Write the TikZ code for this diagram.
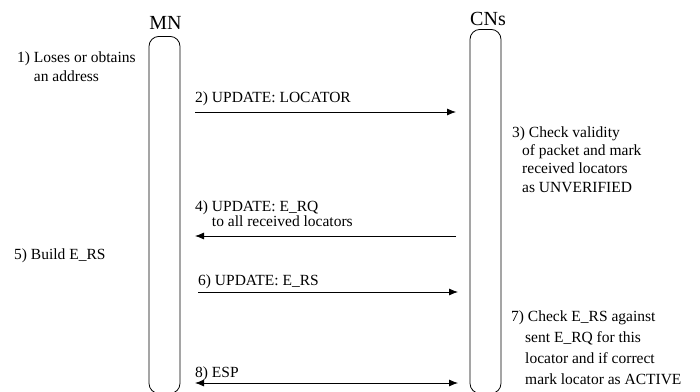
\documentclass[tikz,border=0pt]{standalone}
\usepackage{fontspec}
\setmainfont{Liberation Serif}
\usetikzlibrary{arrows.meta}
\begin{document}
\begin{tikzpicture}[>={Latex[length=9pt,width=7pt]},x=1pt,y=-1pt,line join=round,font=\fontsize{15.5}{18.5}\selectfont]
	\tikzset{life/.style={draw,rounded corners=10pt,minimum width=31pt,minimum height=357pt,inner sep=0pt,anchor=north,line width=.8pt},
		msg/.style={line width=.8pt},
		note/.style={anchor=base west,inner sep=0pt,align=left}}
	\useasboundingbox (0,0) rectangle (700,391);
	% lifelines
	\node[life] (mn) at (164.5,36) {};
	\node[life,minimum height=364pt] (cn) at (485.5,29) {};
	\node[anchor=base,inner sep=0pt,font=\fontsize{20}{20}\selectfont] (mnl) at (165.5,29) {MN};
	\node[anchor=base,inner sep=0pt,font=\fontsize{20}{20}\selectfont] (cnl) at (488,25) {CNs};
	% ends of the messages
	\coordinate (m2) at (195,112); \coordinate (c2) at (456,112);
	\coordinate (m4) at (195,236); \coordinate (c4) at (456,236);
	\coordinate (m6) at (198,292); \coordinate (c6) at (458,292);
	\coordinate (m8) at (195,383); \coordinate (c8) at (458,383);
	\draw[->,msg] (m2)--(c2);
	\draw[->,msg] (c4)--(m4);
	\draw[->,msg] (m6)--(c6);
	\draw[<->,msg] (m8)--(c8);
	% labels (base = last line)
	\node[note,font=\fontsize{15.5}{18.5}\selectfont] (t1) at (17,81) {1) Loses or obtains\\\phantom{1) }an address};
	\node[note] (t2) at (195,102) {2) UPDATE: LOCATOR};
	\node[note,font=\fontsize{15.5}{18.2}\selectfont] (t3) at (512,192) {3) Check validity\\\hspace{10pt}of packet and mark\\\hspace{10pt}received locators\\\hspace{10pt}as UNVERIFIED};
	\node[note,font=\fontsize{15.5}{15}\selectfont] (t4) at (195,226) {4) UPDATE: E\_RQ\\\phantom{4) }to all received locators};
	\node[note] (t5) at (14,259) {5) Build E\_RS};
	\node[note] (t6) at (198,285) {6) UPDATE: E\_RS};
	\node[note,font=\fontsize{15.5}{21}\selectfont] (t7) at (511,384) {7) Check E\_RS against\\\hspace{14pt}sent E\_RQ for this\\\hspace{14pt}locator and if correct\\\hspace{14pt}mark locator as ACTIVE};
	\node[note] (t8) at (195,377) {8) ESP};
\end{tikzpicture}
\end{document}
